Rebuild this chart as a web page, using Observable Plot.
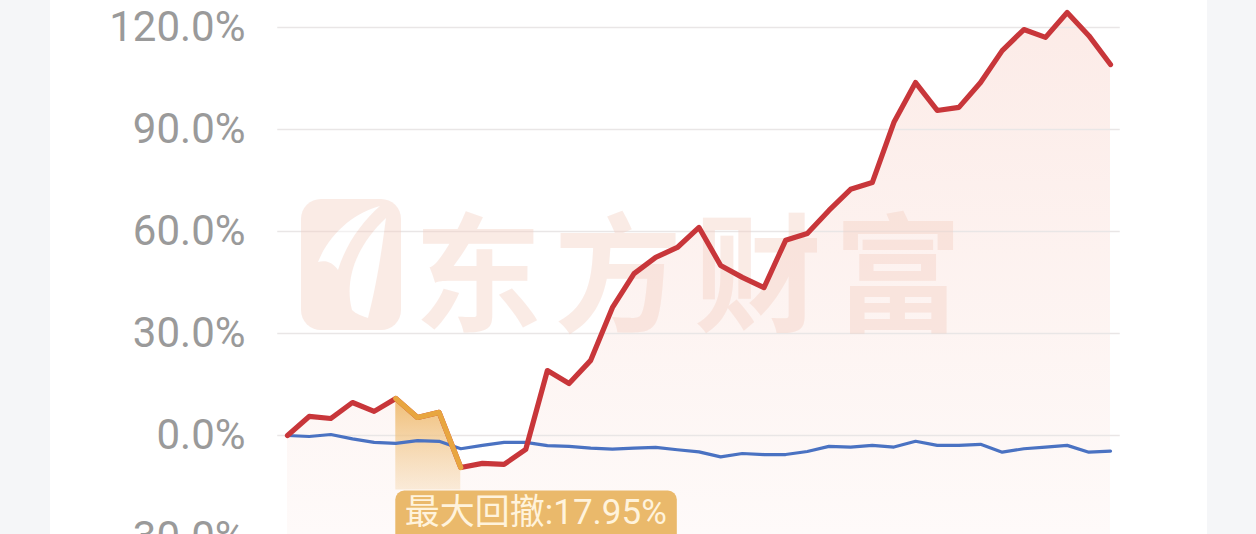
<!DOCTYPE html>
<html>
<head>
<meta charset="utf-8">
<script src="https://cdn.jsdelivr.net/npm/d3@7"></script>
<script src="https://cdn.jsdelivr.net/npm/@observablehq/plot@0.6"></script>
<style>
  html, body { margin: 0; padding: 0; background: #f5f6f8; overflow: hidden; }
  #wrap { position: relative; width: 1256px; height: 534px; }
  #card { position: absolute; left: 50px; top: 0; width: 1157px; height: 534px; background: #ffffff; }
  #chart { position: absolute; left: 0; top: 0; }
</style>
</head>
<body>
<div id="wrap"><div id="card"></div><div id="chart"></div></div>
<script>
// ---- data ----
const fund = [0, 5.6, 5.0, 9.7, 7.1, 10.9, 5.3, 6.8, -9.4, -8.2, -8.5, -4.1, 19.1, 15.3, 22.1, 37.6, 47.6, 52.4, 55.3, 61.2,
  50.0, 46.5, 43.5, 57.4, 59.4, 66.2, 72.4, 74.4, 92.1, 103.8, 95.6, 96.5, 103.8, 113.2, 119.4, 117.1, 124.4, 117.6, 109.1];
const bench = [0, -0.3, 0.3, -1.0, -2.0, -2.3, -1.5, -1.7, -3.9, -2.9, -2.0, -2.0, -3.0, -3.2, -3.7, -4.0, -3.7, -3.5, -4.2, -4.8,
  -6.3, -5.3, -5.6, -5.6, -4.7, -3.2, -3.4, -2.9, -3.4, -1.7, -2.9, -2.9, -2.6, -4.9, -3.9, -3.4, -2.9, -4.9, -4.6];
const yTicks = [-30, 0, 30, 60, 90, 120];
const drawdownLabel = "最大回撤:17.95%";
const watermark = "东方财富";

const rows = fund.map((v, i) => ({i, fund: v, bench: bench[i]}));

// max drawdown interval from the series
let best = {dd: 0, p: 0, t: 0};
for (let p = 0; p < fund.length; p++) {
  for (let t = p + 1; t < fund.length; t++) {
    const dd = ((1 + fund[p] / 100) - (1 + fund[t] / 100)) / (1 + fund[p] / 100);
    if (dd > best.dd) best = {dd, p, t};
  }
}
const ddRows = rows.filter(d => d.i >= best.p && d.i <= best.t);
const n = fund.length - 1;

const plot = Plot.plot({
  width: 1256,
  height: 534,
  marginLeft: 245,
  marginRight: 0,
  marginTop: 0,
  marginBottom: 0,
  style: {background: "transparent", overflow: "hidden", fontFamily: "Roboto, 'Noto Sans CJK SC', sans-serif"},
  x: {domain: [0, n], range: [287, 1110], axis: null},
  y: {domain: [-30, 120], range: [537, 27], axis: null},
  marks: [
    Plot.areaY(rows, {x: "i", y1: -30, y2: "fund", fill: "url(#pinkGrad)"}),
    Plot.ruleY(yTicks, {x1: -0.45, x2: n + 0.45, stroke: "#e9e6e6", strokeWidth: 1.5}),
    Plot.areaY(ddRows, {x: "i", y1: -16, y2: "fund", fill: "url(#orangeGrad)"}),
    Plot.line(rows, {x: "i", y: "bench", stroke: "#4a72c2", strokeWidth: 3.2}),
    Plot.line(rows, {x: "i", y: "fund", stroke: "#c8363a", strokeWidth: 5.2}),
    Plot.line(ddRows, {x: "i", y: "fund", stroke: "#e8a640", strokeWidth: 5.2}),
    Plot.text(yTicks, {y: d => d, frameAnchor: "left", text: d => d.toFixed(1) + "%", textAnchor: "end",
      fontSize: 42, fill: "#9a9a9a"}),
    Plot.text([drawdownLabel], {x: best.p, y: -22.6, text: d => d, textAnchor: "start", dx: 9,
      fontSize: 35, fill: "#fff3dc"})
  ]
});
document.getElementById("chart").appendChild(plot);

// ---- decorations: gradients, watermark, label box ----
const svg = d3.select(plot);
const defs = svg.insert("defs", ":first-child");
const pg = defs.append("linearGradient").attr("id", "pinkGrad").attr("gradientUnits", "userSpaceOnUse")
  .attr("x1", 0).attr("y1", 10).attr("x2", 0).attr("y2", 534);
pg.append("stop").attr("offset", "0%").attr("stop-color", "#fcebe7");
pg.append("stop").attr("offset", "100%").attr("stop-color", "#fefaf9");
const og = defs.append("linearGradient").attr("id", "orangeGrad").attr("x1", 0).attr("y1", 0).attr("x2", 0).attr("y2", 1);
og.append("stop").attr("offset", "0%").attr("stop-color", "#eeb766").attr("stop-opacity", 0.9);
og.append("stop").attr("offset", "100%").attr("stop-color", "#f3cf9c").attr("stop-opacity", 0.35);

// watermark, drawn behind the lines but over the fill
const firstLine = svg.selectAll("g").filter(function () { return this.querySelector("path") && this.getAttribute("stroke") === "#4a72c2"; }).node();
const wm = (firstLine ? d3.select(plot).insert("g", () => firstLine) : svg.append("g")).attr("opacity", 0.42);
wm.append("rect").attr("x", 301).attr("y", 199).attr("width", 100).attr("height", 131).attr("rx", 20)
  .attr("fill", "#f4d0c3");
wm.append("path").attr("d", "M318,262 C330,232 356,212 380,206 C362,222 346,244 338,270 C332,262 326,260 318,262 Z")
  .attr("fill", "#ffffff");
wm.append("path").attr("d", "M352,310 C344,280 356,246 386,218 C382,248 378,278 368,318 C362,316 356,314 352,310 Z")
  .attr("fill", "#ffffff");
wm.append("text").attr("x", 414).attr("y", 266).attr("dominant-baseline", "central").attr("text-anchor", "start")
  .attr("font-family", "'Noto Sans CJK SC', sans-serif").attr("font-weight", 700).attr("font-size", 128)
  .attr("letter-spacing", 12).attr("fill", "#f4d0c3").text(watermark);

// label background box
const labelText = svg.selectAll("text").filter(function () { return this.textContent === drawdownLabel; });
if (!labelText.empty()) {
  const node = labelText.node();
  const sr = plot.getBoundingClientRect();
  const tr = node.getBoundingClientRect();
  const x0 = plot.scale("x").apply(best.p);
  const top = tr.top - sr.top;
  const right = tr.right - sr.left;
  const g = node.parentNode;
  d3.select(plot).insert("rect", () => g)
    .attr("x", x0).attr("y", top - 1).attr("width", right + 10 - x0).attr("height", 70)
    .attr("rx", 9).attr("fill", "#e9b563").attr("opacity", 0.95);
}
</script>
</body>
</html>
